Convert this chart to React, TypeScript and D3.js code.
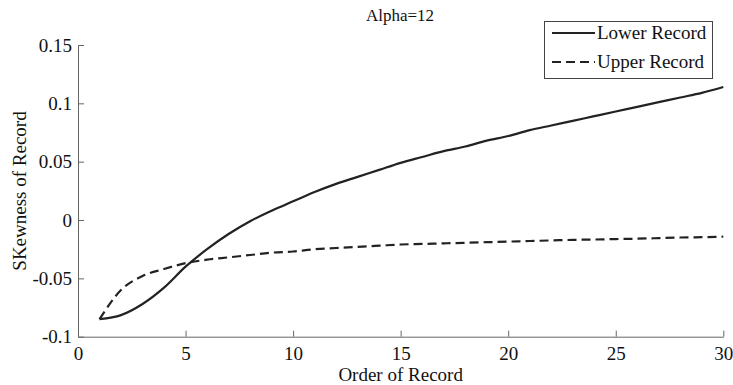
import React, { useEffect, useRef } from 'react';
import * as d3 from 'd3';

const orders = d3.range(1, 31);

const lowerRecord = [
  -0.085, -0.0815, -0.072, -0.058, -0.04, -0.025, -0.012, -0.001, 0.008, 0.016,
  0.024, 0.031, 0.037, 0.043, 0.049, 0.054, 0.059, 0.063, 0.068, 0.072,
  0.077, 0.081, 0.085, 0.089, 0.093, 0.097, 0.101, 0.105, 0.109, 0.114,
];

const upperRecord = [
  -0.085, -0.06, -0.048, -0.042, -0.037, -0.034, -0.032, -0.03, -0.028, -0.027,
  -0.025, -0.024, -0.023, -0.022, -0.021, -0.0205, -0.02, -0.0195, -0.019, -0.0185,
  -0.018, -0.0175, -0.017, -0.0167, -0.0163, -0.016, -0.0155, -0.015, -0.0147, -0.0143,
];

const xTicks = [0, 5, 10, 15, 20, 25, 30];
const yTicks = [-0.1, -0.05, 0, 0.05, 0.1, 0.15];
const yTickLabels = ['-0.1', '-0.05', '0', '0.05', '0.1', '0.15'];

const App = () => {
  const ref = useRef(null);

  useEffect(() => {
    d3.select(ref.current).selectAll('*').remove();

    const width = 733;
    const height = 385;
    const margin = { top: 45, right: 10, bottom: 48, left: 78 };
    const font = '"Liberation Serif", "Times New Roman", serif';

    const svg = d3.select(ref.current)
      .append('svg')
      .attr('width', width)
      .attr('height', height)
      .style('display', 'block')
      .style('background', '#fff');

    const x = d3.scaleLinear().domain([0, 30]).range([margin.left, 723.3]);
    const y = d3.scaleLinear().domain([-0.1, 0.15]).range([336.7, margin.top]);

    // Axes (left and bottom only, ticks inward)
    const axisColor = '#666';
    const xAxis = svg.append('g')
      .attr('transform', `translate(0,${y(-0.1)})`)
      .call(d3.axisBottom(x).tickValues(xTicks).tickSizeInner(-6).tickSizeOuter(0).tickPadding(10).tickFormat(d3.format('d')));
    xAxis.select('.domain').attr('stroke', axisColor);
    xAxis.selectAll('line').attr('stroke', axisColor);
    xAxis.selectAll('text')
      .attr('font-family', font)
      .attr('font-size', 19)
      .attr('fill', '#111');

    const yAxis = svg.append('g')
      .attr('transform', `translate(${x(0)},0)`)
      .call(d3.axisLeft(y).tickValues(yTicks).tickSizeInner(-6).tickSizeOuter(0).tickPadding(6)
        .tickFormat((d, i) => yTickLabels[i]));
    yAxis.select('.domain').attr('stroke', axisColor);
    yAxis.selectAll('line').attr('stroke', axisColor);
    yAxis.selectAll('text')
      .attr('font-family', font)
      .attr('font-size', 19)
      .attr('fill', '#111');

    // Lines
    const line = d3.line()
      .x((d, i) => x(orders[i]))
      .y(d => y(d))
      .curve(d3.curveMonotoneX);

    svg.append('path')
      .datum(upperRecord)
      .attr('fill', 'none')
      .attr('stroke', '#222')
      .attr('stroke-width', 2.2)
      .attr('stroke-dasharray', '9,5')
      .attr('d', line);

    svg.append('path')
      .datum(lowerRecord)
      .attr('fill', 'none')
      .attr('stroke', '#222')
      .attr('stroke-width', 2.2)
      .attr('d', line);

    // Title
    svg.append('text')
      .attr('x', 400)
      .attr('y', 21)
      .attr('text-anchor', 'middle')
      .attr('font-family', font)
      .attr('font-size', 17)
      .attr('fill', '#111')
      .text('Alpha=12');

    // X label
    svg.append('text')
      .attr('x', x(15))
      .attr('y', 381)
      .attr('text-anchor', 'middle')
      .attr('font-family', font)
      .attr('font-size', 19)
      .attr('fill', '#111')
      .text('Order of Record');

    // Y label
    svg.append('text')
      .attr('transform', 'rotate(-90)')
      .attr('x', -191)
      .attr('y', 26)
      .attr('text-anchor', 'middle')
      .attr('font-family', font)
      .attr('font-size', 19)
      .attr('fill', '#111')
      .text('SKewness of Record');

    // Legend
    const legend = svg.append('g');
    legend.append('rect')
      .attr('x', 544.5)
      .attr('y', 21.5)
      .attr('width', 168)
      .attr('height', 57)
      .attr('fill', '#fff')
      .attr('stroke', '#444');

    const items = [
      { label: 'Lower Record', dash: null, yPos: 33 },
      { label: 'Upper Record', dash: '9,5', yPos: 62 },
    ];
    items.forEach(item => {
      legend.append('line')
        .attr('x1', 552)
        .attr('x2', 595)
        .attr('y1', item.yPos)
        .attr('y2', item.yPos)
        .attr('stroke', '#222')
        .attr('stroke-width', 2)
        .attr('stroke-dasharray', item.dash);
      legend.append('text')
        .attr('x', 597)
        .attr('y', item.yPos + 6)
        .attr('font-family', font)
        .attr('font-size', 19)
        .attr('fill', '#111')
        .text(item.label);
    });
  }, []);

  return <div ref={ref} style={{ position: 'absolute', left: 0, top: 0 }} />;
};

export default App;
